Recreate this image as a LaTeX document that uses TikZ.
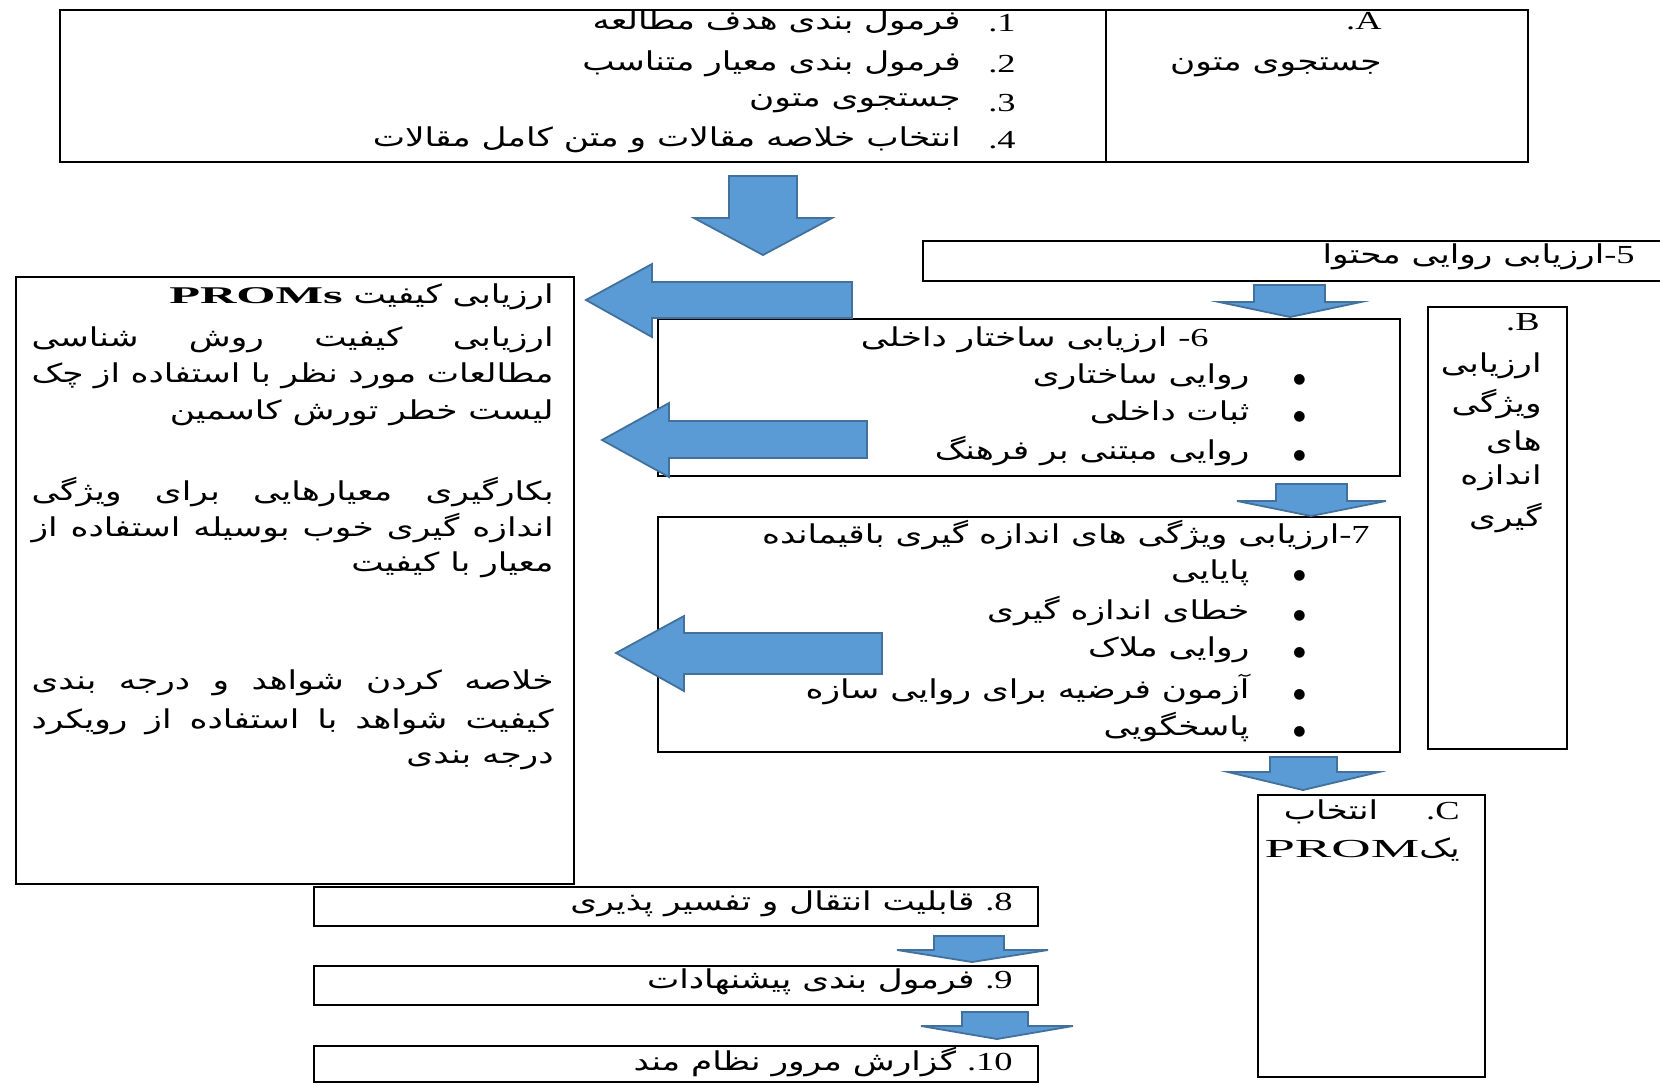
\documentclass[tikz,border=0pt]{standalone}
\usepackage{fontspec}
\setmainfont{Liberation Serif}[FakeStretch=1.4]
\newfontfamily\arabicfont[Script=Arabic,FakeStretch=1.32]{DejaVu Sans}
\newfontfamily\symbfont{DejaVu Sans}
\newfontfamily\wideserif{Liberation Serif}[FakeStretch=2.1]
\newfontfamily\widebold{Liberation Serif}[FakeStretch=2.1]
\TeXXeTstate=1
\usetikzlibrary{fit}
\definecolor{arrowfill}{HTML}{5B9BD5}
\definecolor{arrowline}{HTML}{41719C}
% right-to-left text; latin pieces are kept in boxes
\newcommand{\fa}[1]{{\arabicfont\beginR #1\endR}}
\newcommand{\num}[1]{\hbox{\rmfamily #1}}
\newcommand{\bul}{\hbox{\symbfont\fontsize{7}{7}\selectfont ●}\hspace{22pt}}
\newlength{\jw}
\setlength{\jw}{261pt}
\newcommand{\jline}[1]{\makebox[\jw][s]{\fa{#1}}}

\begin{document}
\begin{tikzpicture}[x=0.5pt,y=-0.5pt,font=\fontsize{13}{15}\selectfont]
    % Define styles
    \tikzstyle{box}=[draw,line width=1.4pt,inner sep=0pt]
    \tikzstyle{txt}=[inner sep=0pt,anchor=east]
    \tikzstyle{blockarrow}=[fill=arrowfill,draw=arrowline,line width=0.9pt,line join=miter]

    \useasboundingbox (0,0) rectangle (1660,1084);

    % Draw the boxes
    \node[box,fit={(60,10) (1106,162)}] (steps) {};
    \node[box,fit={(1106,10) (1528,162)}] (partA) {};
    \node[box,fit={(923,241) (1666,281)}] (s5) {};
    \node[box,fit={(16,277) (574,884)}] (quality) {};
    \node[box,fit={(658,319) (1400,476)}] (s6) {};
    \node[box,fit={(658,517) (1400,752)}] (s7) {};
    \node[box,fit={(1428,307) (1567,749)}] (partB) {};
    \node[box,fit={(1258,795) (1485,1077)}] (partC) {};
    \node[box,fit={(314,887) (1038,926)}] (s8) {};
    \node[box,fit={(314,966) (1038,1005)}] (s9) {};
    \node[box,fit={(314,1046) (1038,1082)}] (s10) {};

    % Part A
    \foreach \y/\n/\t in {23/1/{فرمول بندی هدف مطالعه},64/2/{فرمول بندی معیار متناسب},
                          103/3/{جستجوی متون},140/4/{انتخاب خلاصه مقالات و متن کامل مقالات}}
        {\node[txt] (num\n) at (1016,\y) {\fa{\num{\n}\num{.}}};
         \node[txt] (item\n) at (961,\y) {\fa{\t}};}
    \node[txt] (labelA) at (1382,21) {\fa{\num{A}\num{.}}};
    \node[txt] (search) at (1382,67) {\fa{جستجوی متون}};

    % Steps 5, 6 and 7
    \node[txt] (t5) at (1635,257) {\fa{\num{5}\num{-}ارزیابی روایی محتوا}};
    \node[txt] (t6) at (1209,340) {\fa{\num{6}\num{-} ارزیابی ساختار داخلی}};
    \foreach \y/\t in {377/{روایی ساختاری},413/{ثبات داخلی},451/{روایی مبتنی بر فرهنگ}}
        \node[txt] (b6\y) at (1306,\y) {\fa{\bul\t}};
    \node[txt] (t7) at (1370,535) {\fa{\num{7}\num{-}ارزیابی ویژگی های اندازه گیری باقیمانده}};
    \foreach \y/\t in {573/{پایایی},611/{خطای اندازه گیری},650/{روایی ملاک},
                       689/{آزمون فرضیه برای روایی سازه},727/{پاسخگویی}}
        \node[txt] (b7\y) at (1306,\y) {\fa{\bul\t}};

    % Part B
    \node[txt] (labelB) at (1540,322) {\fa{\num{B}\num{.}}};
    \foreach \y/\t in {366/{ارزیابی},404/{ویژگی},442/{های},478/{اندازه},518/{گیری}}
        \node[txt] (B\y) at (1542,\y) {\fa{\t}};

    % Part C
    \node[txt] (labelC) at (1460,812) {\fa{\num{C}\num{.}\hspace{24pt}انتخاب}};
    \node[txt] (prom) at (1460,850) {\fa{یک\hbox{\wideserif PROM}}};

    % Quality box
    \node[txt] (q0) at (554,297) {\fa{ارزیابی کیفیت \hbox{\widebold\bfseries\fontsize{12}{14}\selectfont PROMs}}};
    \node[txt] (q1) at (554,340) {\jline{ارزیابی کیفیت روش شناسی}};
    \node[txt] (q2) at (554,376) {\jline{مطالعات مورد نظر با استفاده از چک}};
    \node[txt] (q3) at (554,413) {\fa{لیست خطر تورش کاسمین}};
    \node[txt] (q4) at (554,492) {\jline{بکارگیری معیارهایی برای ویژگی}};
    \node[txt] (q5) at (554,528) {\jline{اندازه گیری خوب بوسیله استفاده از}};
    \node[txt] (q6) at (554,565) {\fa{معیار با کیفیت}};
    \node[txt] (q7) at (554,683) {\jline{خلاصه کردن شواهد و درجه بندی}};
    \node[txt] (q8) at (554,722) {\jline{کیفیت شواهد با استفاده از رویکرد}};
    \node[txt] (q9) at (554,760) {\fa{درجه بندی}};

    % Steps 8, 9 and 10
    \node[txt] (t8) at (1013,904) {\fa{\num{8}\num{.} قابلیت انتقال و تفسیر پذیری}};
    \node[txt] (t9) at (1013,982) {\fa{\num{9}\num{.} فرمول بندی پیشنهادات}};
    \node[txt] (t10) at (1013,1062) {\fa{\num{10}\num{.} گزارش مرور نظام مند}};

    % Draw the arrows
    \draw[blockarrow] (729,176) -- (797,176) -- (797,218) -- (832,218) -- (763,255) -- (694,218) -- (729,218) -- cycle;
    \draw[blockarrow] (852,282) -- (852,318) -- (652,318) -- (652,337) -- (586,300) -- (652,264) -- (652,282) -- cycle;
    \draw[blockarrow] (867,421) -- (867,458) -- (669,458) -- (669,477) -- (602,440) -- (669,403) -- (669,421) -- cycle;
    \draw[blockarrow] (882,633) -- (882,674) -- (684,674) -- (684,691) -- (616,653) -- (684,616) -- (684,633) -- cycle;
    \draw[blockarrow] (1254,285) -- (1325,285) -- (1325,302) -- (1361,302) -- (1290,317) -- (1219,302) -- (1254,302) -- cycle;
    \draw[blockarrow] (1276,484) -- (1347,484) -- (1347,501) -- (1386,501) -- (1311,516) -- (1237,501) -- (1276,501) -- cycle;
    \draw[blockarrow] (1270,757) -- (1337,757) -- (1337,772) -- (1379,772) -- (1303,790) -- (1228,772) -- (1270,772) -- cycle;
    \draw[blockarrow] (934,936) -- (1004,936) -- (1004,950) -- (1048,950) -- (972,962) -- (897,950) -- (934,950) -- cycle;
    \draw[blockarrow] (962,1012) -- (1028,1012) -- (1028,1026) -- (1073,1026) -- (997,1039) -- (921,1026) -- (962,1026) -- cycle;
\end{tikzpicture}
\end{document}
